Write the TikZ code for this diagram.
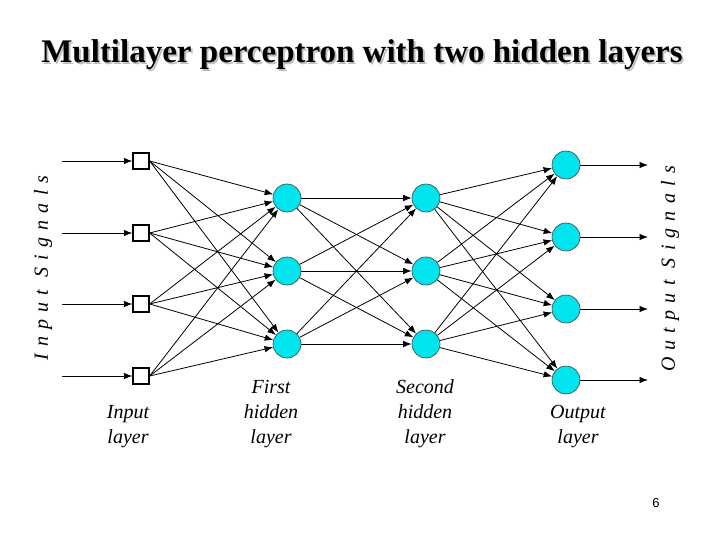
\documentclass[tikz,border=0pt]{standalone}
\usepackage{fontspec}
\setmainfont{Liberation Serif}
\newfontfamily\sigfont[LetterSpace=36]{Liberation Serif}
\newfontfamily\numfont{Liberation Sans}
\usetikzlibrary{arrows.meta}
\definecolor{neuron}{RGB}{0,228,238}
\definecolor{shade}{RGB}{190,190,190}
\newcommand{\shadowtext}[1]{\makebox[0pt][l]{\hspace{1.8bp}\raisebox{-1.8bp}{\textcolor{shade}{#1}}}#1}
\begin{document}
\begin{tikzpicture}[x=1bp,y=-1bp,
  inp/.style={draw, line width=1.3bp, fill=white, minimum size=16bp, inner sep=0pt},
  neu/.style={circle, draw=black!75, line width=0.6bp, fill=neuron, minimum size=28bp, inner sep=0pt},
  conn/.style={-{Latex[length=8.5bp,width=6.5bp]}, line width=0.8bp},
  lbl/.style={font=\fontsize{20bp}{25bp}\selectfont\itshape, anchor=base, inner sep=0pt},
  sig/.style={font=\sigfont\fontsize{20bp}{24bp}\selectfont\itshape, rotate=90, inner sep=0pt},
  ttl/.style={font=\fontsize{33bp}{36bp}\selectfont\bfseries, anchor=base, inner sep=0pt}]
\useasboundingbox[fill=white] (0,0) rectangle (720,540);

% title with shadow
\node[ttl] (title) at (362,63) {\shadowtext{Multilayer perceptron with two hidden layers}};

% signal end points
\coordinate (s1) at (62,161);
\coordinate (s2) at (62,233);
\coordinate (s3) at (62,304);
\coordinate (s4) at (62,376);
\coordinate (t1) at (648,165);
\coordinate (t2) at (648,237);
\coordinate (t3) at (648,309);
\coordinate (t4) at (648,380);

% nodes
\node[inp] (i1) at (141,161) {};
\node[inp] (i2) at (141,233) {};
\node[inp] (i3) at (141,304) {};
\node[inp] (i4) at (141,376) {};
\node[neu] (h1) at (287,198) {};
\node[neu] (h2) at (287,271) {};
\node[neu] (h3) at (287,344) {};
\node[neu] (g1) at (426,198) {};
\node[neu] (g2) at (426,271) {};
\node[neu] (g3) at (426,344) {};
\node[neu] (o1) at (566,165) {};
\node[neu] (o2) at (566,237) {};
\node[neu] (o3) at (566,309) {};
\node[neu] (o4) at (566,380) {};

% connections
\foreach \k in {1,...,4} {
  \draw[conn] (s\k) -- (i\k);
  \draw[conn] (o\k) -- (t\k);
}
\foreach \a in {1,...,4} \foreach \b in {1,2,3} {
  \draw[conn] (i\a.east) -- (h\b);
  \draw[conn] (g\b) -- (o\a);
}
\foreach \a in {1,2,3} \foreach \b in {1,2,3} {
  \draw[conn] (h\a) -- (g\b);
}

% layer labels
\node[lbl] (l1a) at (128,418.5) {Input};
\node[lbl] (l1b) at (128,443.5) {layer};
\node[lbl] (l2a) at (271,393.5) {First};
\node[lbl] (l2b) at (271,418.5) {hidden};
\node[lbl] (l2c) at (271,443.5) {layer};
\node[lbl] (l3a) at (425,393.5) {Second};
\node[lbl] (l3b) at (425,418.5) {hidden};
\node[lbl] (l3c) at (425,443.5) {layer};
\node[lbl] (l4a) at (578,418.5) {Output};
\node[lbl] (l4b) at (578,443.5) {layer};

% signal labels
\node[sig] (insig) at (43,268) {Input Signals};
\node[sig] (outsig) at (670,269) {Output Signals};

% page number
\node[font=\numfont\fontsize{13bp}{15bp}\selectfont, inner sep=0pt] (pg) at (656,503) {6};
\end{tikzpicture}
\end{document}
